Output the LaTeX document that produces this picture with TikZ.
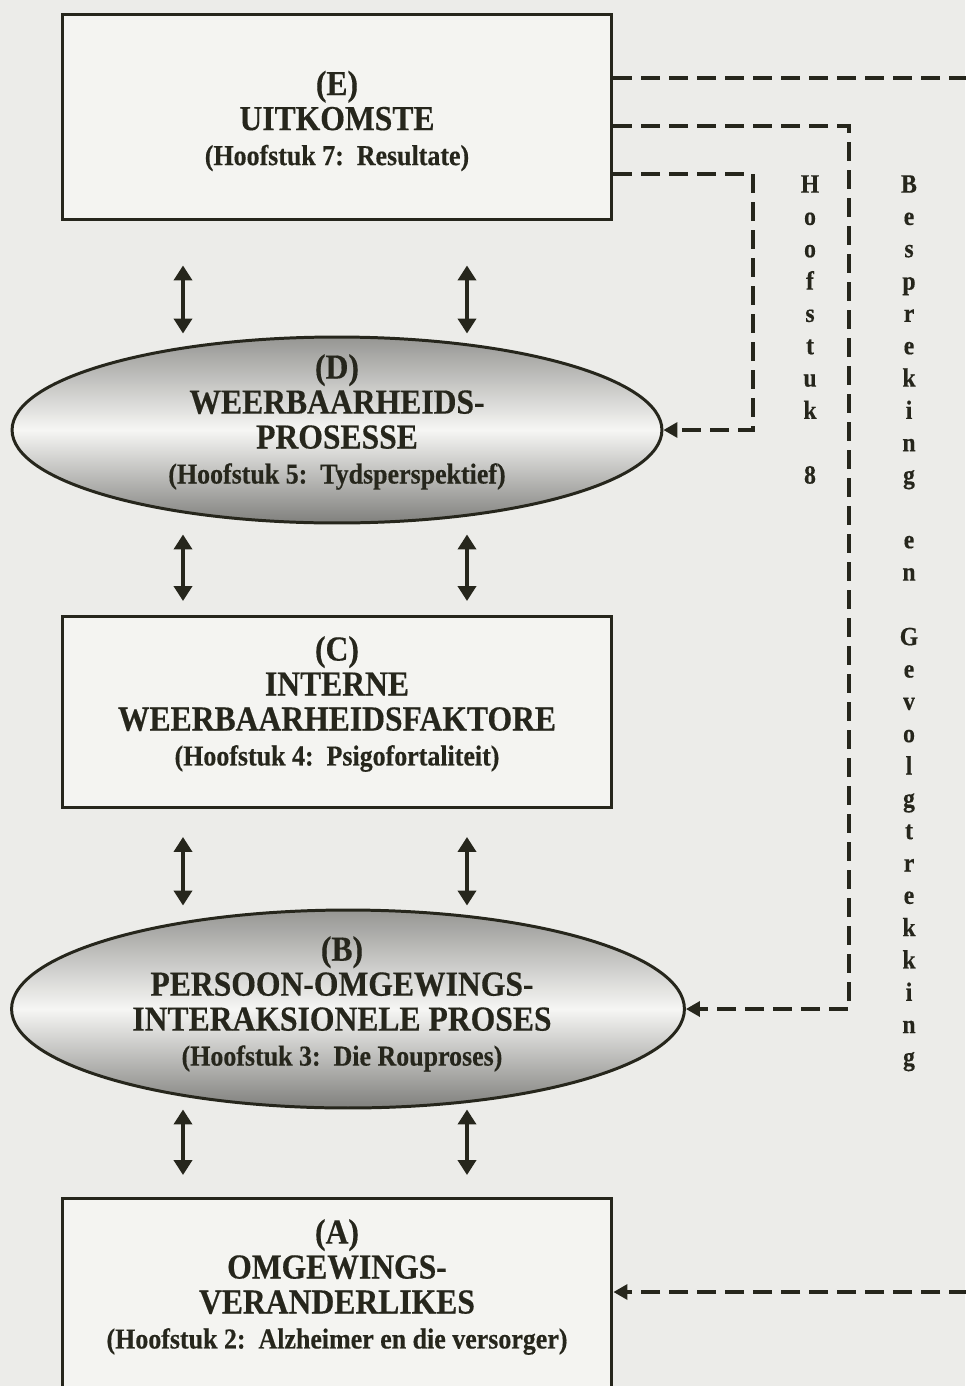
\documentclass[tikz,border=0pt]{standalone}
\usepackage{fontspec}
\setmainfont{Liberation Serif}[FakeStretch=0.9,FakeBold=0.4]
\usetikzlibrary{arrows.meta,shapes.geometric,positioning}

\definecolor{ink}{RGB}{38,38,28}
\definecolor{paper}{RGB}{236,236,233}
\definecolor{blokfill}{RGB}{244,244,241}
\definecolor{ovtop}{RGB}{150,150,147}
\definecolor{ovmid}{RGB}{246,246,244}
\definecolor{ovbot}{RGB}{128,128,125}

\newcommand{\klein}[1]{{\fontsize{16.4}{19.9}\selectfont #1}}

\tikzset{
  blok/.style={rectangle, draw=ink, line width=1.7pt, fill=blokfill, minimum width=110mm, inner sep=0pt},
  ovaal/.style={ellipse, draw=ink, line width=1.7pt, top color=ovtop, bottom color=ovbot, middle color=ovmid, inner sep=0pt},
  tekst/.style={align=center, text=ink, inner sep=0pt, font=\fontsize{20}{19.9}\selectfont\bfseries},
  lettres/.style={align=center, text=ink, inner sep=0pt, anchor=north, font=\fontsize{15}{18.4}\selectfont\bfseries},
  dbl/.style={{Triangle[length=3mm,width=3.6mm]}-{Triangle[length=3mm,width=3.6mm]}, draw=ink, line width=0.8mm},
  streep/.style={draw=ink, line width=0.65mm, dash pattern=on 3.8mm off 1.8mm},
  pyl/.style={-{Triangle[length=2.8mm,width=3mm]}}
}

\begin{document}
\begin{tikzpicture}[x=0.02cm, y=-0.02cm]
  \fill[paper] (0,0) rectangle (965,1386);
  \useasboundingbox (0,0) rectangle (965,1386);

  % Define nodes
  \node[blok, minimum height=41.2mm] (E) at (337,117) {};
  \node[ovaal, minimum width=130mm, minimum height=37.2mm] (D) at (337,430) {};
  \node[blok, minimum height=38.2mm] (C) at (337,712) {};
  \node[ovaal, minimum width=134.6mm, minimum height=39.6mm] (B) at (348,1009) {};
  \node[blok, minimum height=38.2mm] (A) at (337,1294) {};

  % Texts in the nodes
  \node[tekst] (Et) at (337,121) {(E)\\UITKOMSTE\\\klein{(Hoofstuk 7:~~Resultate)}};
  \node[tekst] (Dt) at (337,422) {(D)\\WEERBAARHEIDS-\\PROSESSE\\\klein{(Hoofstuk 5:~~Tydsperspektief)}};
  \node[tekst] (Ct) at (337,704) {(C)\\INTERNE\\WEERBAARHEIDSFAKTORE\\\klein{(Hoofstuk 4:~~Psigofortaliteit)}};
  \node[tekst] (Bt) at (342,1004) {(B)\\PERSOON-OMGEWINGS-\\INTERAKSIONELE PROSES\\\klein{(Hoofstuk 3:~~Die Rouproses)}};
  \node[tekst] (At) at (337,1287) {(A)\\OMGEWINGS-\\VERANDERLIKES\\\klein{(Hoofstuk 2:~~Alzheimer en die versorger)}};

  % Vertical labels
  \node[lettres] (h8) at (810,175) {H\\o\\o\\f\\s\\t\\u\\k\\~\\8};
  \node[lettres] (bg) at (909,175) {B\\e\\s\\p\\r\\e\\k\\i\\n\\g\\~\\e\\n\\~\\G\\e\\v\\o\\l\\g\\t\\r\\e\\k\\k\\i\\n\\g};

  % Draw arrows
  \coordinate (lk) at (183,0);
  \coordinate (rk) at (467,0);
  \draw[dbl, shorten <=8.8mm, shorten >=0.4mm] (lk |- E.south) -- (lk |- D.north);
  \draw[dbl, shorten <=8.8mm, shorten >=0.4mm] (rk |- E.south) -- (rk |- D.north);
  \draw[dbl, shorten <=2mm, shorten >=2.8mm] (lk |- D.south) -- (lk |- C.north);
  \draw[dbl, shorten <=2mm, shorten >=2.8mm] (rk |- D.south) -- (rk |- C.north);
  \draw[dbl, shorten <=5.6mm, shorten >=0.6mm] (lk |- C.south) -- (lk |- B.north);
  \draw[dbl, shorten <=5.6mm, shorten >=0.6mm] (rk |- C.south) -- (rk |- B.north);
  \draw[dbl, shorten <=0mm, shorten >=4.4mm] (lk |- B.south) -- (lk |- A.north);
  \draw[dbl, shorten <=0mm, shorten >=4.4mm] (rk |- B.south) -- (rk |- A.north);

  % Dashed links
  \coordinate (uit1) at (968,78);
  \coordinate (k8) at (849,126);
  \coordinate (k7) at (753,174);
  \coordinate (uit2) at (968,1292);
  \draw[streep] (uit1 -| E.east) -- (uit1);
  \draw[streep, pyl] (k8 -| E.east) -- (k8) -- (k8 |- B.east) -- (B.east);
  \draw[streep, pyl] (k7 -| E.east) -- (k7) -- (k7 |- D.east) -- (D.east);
  \draw[streep, pyl] (uit2) -- (uit2 -| A.east);
\end{tikzpicture}
\end{document}
